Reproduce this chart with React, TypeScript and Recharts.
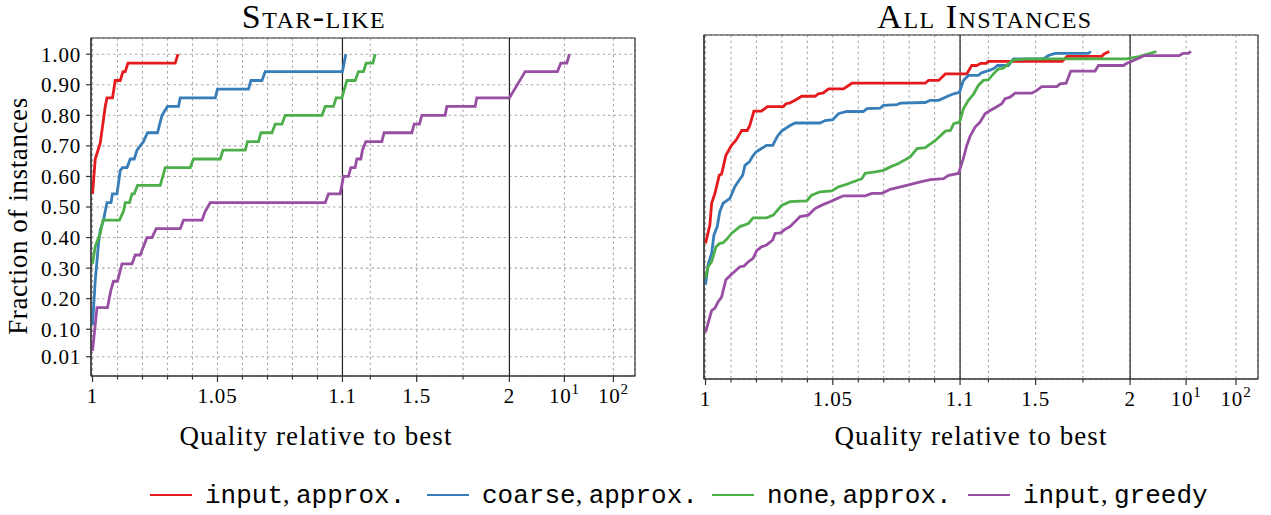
import React from "react";
import { CartesianGrid, Label, Line, LineChart, ReferenceArea, ReferenceLine, XAxis, YAxis } from "recharts";

type Pt = [number, number];

// performance profiles: [quality ratio, fraction of instances]
const starInputApprox: Pt[] = [
  [1.0, 0.543], [1.0011, 0.657], [1.0031, 0.71], [1.0051, 0.829], [1.0058, 0.857], [1.008, 0.857],
  [1.0091, 0.914], [1.0111, 0.914], [1.0122, 0.943], [1.0131, 0.943], [1.0142, 0.971], [1.0331, 0.971],
  [1.0342, 1.0],
];
const starCoarseApprox: Pt[] = [
  [1.0, 0.114], [1.0011, 0.26], [1.0024, 0.38], [1.0031, 0.424], [1.0044, 0.457], [1.0051, 0.486],
  [1.0058, 0.514], [1.0074, 0.514], [1.008, 0.543], [1.0098, 0.543], [1.0111, 0.619], [1.012, 0.629],
  [1.0138, 0.629], [1.0151, 0.657], [1.0167, 0.657], [1.0178, 0.686], [1.0191, 0.7], [1.0204, 0.714],
  [1.022, 0.743], [1.026, 0.743], [1.0278, 0.8], [1.03, 0.829], [1.0344, 0.829], [1.0351, 0.857],
  [1.0491, 0.857], [1.05, 0.886], [1.0624, 0.886], [1.0634, 0.914], [1.0678, 0.914], [1.0691, 0.943],
  [1.1, 0.943], [1.118, 1.0],
];
const starNoneApprox: Pt[] = [
  [1.0, 0.314], [1.0011, 0.371], [1.0031, 0.414], [1.0042, 0.457], [1.0108, 0.457], [1.0124, 0.486],
  [1.0131, 0.514], [1.0148, 0.514], [1.0158, 0.543], [1.0167, 0.543], [1.018, 0.571], [1.0271, 0.571],
  [1.0291, 0.629], [1.0391, 0.629], [1.0404, 0.657], [1.0511, 0.657], [1.0522, 0.686], [1.0611, 0.686],
  [1.062, 0.714], [1.0664, 0.714], [1.0674, 0.743], [1.0718, 0.743], [1.0731, 0.771], [1.0758, 0.771],
  [1.0771, 0.8], [1.0918, 0.8], [1.0931, 0.829], [1.0964, 0.829], [1.0975, 0.857], [1.0998, 0.857],
  [1.1237, 0.914], [1.1685, 0.914], [1.1862, 0.943], [1.2132, 0.943], [1.2277, 0.971], [1.2639, 0.971],
  [1.2762, 1.0],
];
const starInputGreedy: Pt[] = [
  [1.0, 0.029], [1.0018, 0.171], [1.006, 0.171], [1.0074, 0.229], [1.0084, 0.257], [1.01, 0.257],
  [1.0118, 0.314], [1.0158, 0.314], [1.0171, 0.343], [1.0191, 0.343], [1.0204, 0.371], [1.0218, 0.4],
  [1.0238, 0.4], [1.0255, 0.429], [1.0351, 0.429], [1.0364, 0.457], [1.0438, 0.457], [1.0451, 0.486],
  [1.0471, 0.514], [1.0931, 0.514], [1.0944, 0.543], [1.0991, 0.543], [1.1054, 0.6], [1.1323, 0.6],
  [1.1453, 0.629], [1.1684, 0.629], [1.1776, 0.657], [1.1992, 0.657], [1.2078, 0.686], [1.2261, 0.714],
  [1.3123, 0.714], [1.3247, 0.743], [1.474, 0.743], [1.4864, 0.771], [1.515, 0.771], [1.528, 0.8],
  [1.6535, 0.8], [1.6626, 0.829], [1.8151, 0.829], [1.8243, 0.857], [2.0, 0.857], [3.17, 0.943],
  [8.15, 0.943], [9.0, 0.971], [11.2, 0.971], [12.65, 1.0],
];

const allInputApprox: Pt[] = [
  [1.0, 0.383], [1.0017, 0.442], [1.0024, 0.512], [1.0037, 0.544], [1.0054, 0.602], [1.0063, 0.606],
  [1.008, 0.666], [1.0102, 0.698], [1.0119, 0.714], [1.0135, 0.736], [1.0142, 0.746], [1.0164, 0.746],
  [1.0174, 0.762], [1.019, 0.808], [1.022, 0.808], [1.0243, 0.823], [1.0306, 0.823], [1.0316, 0.832],
  [1.0332, 0.835], [1.0352, 0.843], [1.0378, 0.856], [1.043, 0.856], [1.0443, 0.864], [1.0463, 0.867],
  [1.0483, 0.88], [1.0542, 0.88], [1.0575, 0.898], [1.0863, 0.898], [1.0876, 0.907], [1.0916, 0.907],
  [1.0942, 0.928], [1.1355, 0.928], [1.1619, 0.955], [1.1884, 0.955], [1.2096, 0.962], [1.2376, 0.962],
  [1.2498, 0.968], [1.64, 0.968], [1.6665, 0.984], [1.85, 0.984], [1.862, 0.992], [1.89, 1.0],
];
const allCoarseApprox: Pt[] = [
  [1.0, 0.25], [1.001, 0.314], [1.0024, 0.351], [1.0033, 0.41], [1.0046, 0.437], [1.0056, 0.485],
  [1.0069, 0.512], [1.0096, 0.528], [1.0115, 0.565], [1.0132, 0.586], [1.0146, 0.602], [1.0155, 0.634],
  [1.0172, 0.645], [1.0185, 0.663], [1.0198, 0.677], [1.022, 0.688], [1.024, 0.698], [1.0264, 0.698],
  [1.0282, 0.727], [1.0299, 0.744], [1.0332, 0.762], [1.0352, 0.77], [1.045, 0.77], [1.047, 0.778],
  [1.05, 0.781], [1.0522, 0.8], [1.0555, 0.807], [1.062, 0.807], [1.0634, 0.816], [1.0686, 0.818],
  [1.0699, 0.827], [1.0752, 0.829], [1.0765, 0.834], [1.0863, 0.836], [1.0883, 0.843], [1.0916, 0.843],
  [1.0949, 0.855], [1.0975, 0.864], [1.0998, 0.869], [1.1175, 0.907], [1.1439, 0.923], [1.1969, 0.923],
  [1.2096, 0.93], [1.2414, 0.937], [1.2588, 0.94], [1.28, 0.946], [1.2975, 0.955], [1.3557, 0.955],
  [1.3822, 0.976], [1.541, 0.976], [1.5675, 0.987], [1.603, 0.994], [1.7792, 0.994], [1.792, 1.0],
];
const allNoneApprox: Pt[] = [
  [1.0, 0.271], [1.001, 0.308], [1.0024, 0.324], [1.0041, 0.372], [1.0056, 0.383], [1.0069, 0.385],
  [1.0083, 0.396], [1.0102, 0.415], [1.0135, 0.437], [1.0168, 0.447], [1.0187, 0.465], [1.024, 0.465],
  [1.0266, 0.474], [1.0299, 0.505], [1.0332, 0.517], [1.0398, 0.52], [1.0417, 0.538], [1.045, 0.549],
  [1.0496, 0.552], [1.0522, 0.565], [1.0555, 0.573], [1.0581, 0.581], [1.0614, 0.591], [1.0627, 0.608],
  [1.0667, 0.613], [1.0699, 0.618], [1.0726, 0.629], [1.0758, 0.64], [1.0804, 0.661], [1.0831, 0.688],
  [1.0863, 0.691], [1.0903, 0.714], [1.0942, 0.744], [1.0962, 0.746], [1.0975, 0.768], [1.0994, 0.772],
  [1.1, 0.778], [1.1175, 0.816], [1.1439, 0.843], [1.1704, 0.862], [1.1969, 0.891], [1.2234, 0.907],
  [1.2498, 0.909], [1.2763, 0.928], [1.3028, 0.944], [1.3292, 0.946], [1.3557, 0.96], [1.3822, 0.973],
  [1.4531, 0.976], [1.9825, 0.976], [2.65, 0.984], [4.25, 1.0],
];
const allInputGreedy: Pt[] = [
  [1.0, 0.097], [1.0024, 0.167], [1.0037, 0.175], [1.005, 0.196], [1.0063, 0.21], [1.008, 0.266],
  [1.0096, 0.279], [1.0135, 0.308], [1.0151, 0.31], [1.0168, 0.324], [1.0187, 0.335], [1.0201, 0.36],
  [1.022, 0.372], [1.024, 0.378], [1.0264, 0.394], [1.0273, 0.415], [1.0295, 0.417], [1.0312, 0.428],
  [1.0332, 0.437], [1.0352, 0.453], [1.0371, 0.469], [1.0404, 0.474], [1.043, 0.495], [1.0457, 0.506],
  [1.0489, 0.517], [1.0516, 0.527], [1.0542, 0.536], [1.0627, 0.536], [1.0654, 0.544], [1.0693, 0.544],
  [1.0726, 0.557], [1.0798, 0.571], [1.0844, 0.581], [1.0883, 0.588], [1.0935, 0.591], [1.0955, 0.602],
  [1.0994, 0.608], [1.1175, 0.656], [1.1355, 0.698], [1.1529, 0.727], [1.1794, 0.757], [1.2059, 0.773],
  [1.2324, 0.8], [1.2588, 0.81], [1.2853, 0.819], [1.3208, 0.832], [1.3382, 0.848], [1.3647, 0.853],
  [1.3912, 0.866], [1.4796, 0.866], [1.506, 0.875], [1.5325, 0.887], [1.612, 0.887], [1.6294, 0.896],
  [1.6612, 0.898], [1.6861, 0.937], [1.8147, 0.937], [1.8322, 0.955], [1.9645, 0.955], [1.9825, 0.962],
  [2.0, 0.966], [3.05, 0.987], [8.21, 0.987], [9.19, 0.994], [11.1, 0.994], [12.5, 1.0],
];

const seriesNames = ["input", "coarse", "none", "input"];
const seriesModes = ["approx.", "approx.", "approx.", "greedy"];
const seriesColors = ["#e41a1c", "#377eb8", "#4daf4a", "#984ea3"];

const majorTicks = [1, 1.05, 1.1, 1.5, 2, 10, 100];
const majorLabels = ["1", "1.05", "1.1", "1.5", "2", "10^1", "10^2"];
const minorTicks = [1.01, 1.02, 1.03, 1.04, 1.06, 1.07, 1.08, 1.09, 1.25, 1.75];
const yTicks = [0.01, 0.1, 0.2, 0.3, 0.4, 0.5, 0.6, 0.7, 0.8, 0.9, 1.0];
const dividers = [1.1, 2];

const SERIF = '"Liberation Serif", "DejaVu Serif", serif';
const MONO = '"Liberation Mono", "DejaVu Sans Mono", monospace';
const AXIS = "#333";
const CHART_H = 470;

// piecewise x scale: linear on [1, 1.1], linear on [1.1, 2], log beyond 2
function toPos(r: number): number {
  if (r <= 1.1) return (r - 1) * 2500;
  if (r <= 2) return 250 + ((r - 1.1) / 0.9) * 167;
  if (r <= 10) return 417 + (Math.log10(r / 2) / Math.log10(5)) * 55;
  return 472 + Math.log10(r / 10) * 49;
}

const X_DOMAIN: [number, number] = [-1.5, 542.6];
const Y_DOMAIN: [number, number] = [-0.053, 1.053];
const majorPos = majorTicks.map(toPos);
const xTickPos = [...majorTicks, ...minorTicks].map(toPos).sort((a, b) => a - b);

const toRows = (pts: Pt[]) => pts.map(([r, f]) => ({ u: toPos(r), f }));

function XTick(props: any) {
  const { x, y, payload } = props;
  const idx = majorPos.findIndex((p) => Math.abs(p - payload.value) < 1e-6);
  const label = idx >= 0 ? majorLabels[idx] : null;
  const [base, sup] = label ? label.split("^") : [null, null];
  return (
    <g>
      <line x1={x} x2={x} y1={y} y2={y + (label ? 6 : 3.5)} stroke={AXIS} strokeWidth={1.2} />
      {label && (
        <text x={x} y={y + 27} textAnchor="middle" fontFamily={SERIF} fontSize={21} fill="#000" letterSpacing={0.8}>
          <tspan>{base}</tspan>
          {sup && (
            <tspan dy={-9} fontSize={15}>
              {sup}
            </tspan>
          )}
        </text>
      )}
    </g>
  );
}

interface PanelProps {
  title: string;
  series: Pt[][];
  left: number;
  width: number;
  plotLeft: number;
  plotRight: number;
  plotTop: number;
  plotBottom: number;
  yAxisWidth: number;
  showYLabels: boolean;
  titleCenter: number;
  xLabelCenter: number;
}

function Panel(p: PanelProps) {
  const margin = {
    top: p.plotTop,
    left: p.plotLeft - p.left - p.yAxisWidth,
    right: p.left + p.width - p.plotRight,
    bottom: CHART_H - p.plotBottom - 70,
  };
  return (
    <div style={{ position: "absolute", left: p.left, top: 0, width: p.width, height: CHART_H }}>
      <div
        style={{
          position: "absolute",
          left: p.titleCenter - p.left - 200,
          width: 400,
          top: 0,
          textAlign: "center",
          fontFamily: SERIF,
          fontSize: 34,
          lineHeight: "34px",
          fontVariant: "small-caps",
          letterSpacing: 1.5,
        }}
      >
        {p.title}
      </div>
      <LineChart width={p.width} height={CHART_H} margin={margin}>
        <CartesianGrid stroke="#ababab" strokeWidth={1.1} strokeDasharray="2.5 3" />
        <XAxis
          dataKey="u"
          type="number"
          domain={X_DOMAIN}
          ticks={xTickPos}
          interval={0}
          allowDataOverflow
          height={70}
          tickLine={false}
          tickSize={0}
          tickMargin={0}
          axisLine={{ stroke: AXIS, strokeWidth: 1.2 }}
          tick={(t: any) => <XTick {...t} />}
        >
          <Label
            content={() => (
              <text x={p.xLabelCenter - p.left} y={445} textAnchor="middle" fontFamily={SERIF} fontSize={27} letterSpacing={1.1}>
                Quality relative to best
              </text>
            )}
          />
        </XAxis>
        <YAxis
          type="number"
          domain={Y_DOMAIN}
          ticks={yTicks}
          interval={0}
          width={p.yAxisWidth}
          tickSize={5}
          tickMargin={5}
          tickLine={{ stroke: AXIS, strokeWidth: 1.2 }}
          axisLine={{ stroke: AXIS, strokeWidth: 1.2 }}
          tick={p.showYLabels ? { fontFamily: SERIF, fontSize: 21, fill: "#000", letterSpacing: 0.8 } : false}
          tickFormatter={(v: number) => v.toFixed(2)}
        >
          {p.showYLabels && (
            <Label
              content={() => (
                <text
                  transform="translate(27,216) rotate(-90)"
                  textAnchor="middle"
                  fontFamily={SERIF}
                  fontSize={27}
                  letterSpacing={0.6}
                >
                  Fraction of instances
                </text>
              )}
            />
          )}
        </YAxis>
        {dividers.map((d) => (
          <ReferenceLine key={d} x={toPos(d)} stroke="#222" strokeWidth={1.2} />
        ))}
        <ReferenceArea
          x1={X_DOMAIN[0]}
          x2={X_DOMAIN[1]}
          y1={Y_DOMAIN[0]}
          y2={Y_DOMAIN[1]}
          fill="none"
          stroke={AXIS}
          strokeWidth={1.2}
          ifOverflow="visible"
        />
        {p.series.map((pts, i) => (
          <Line
            key={i}
            data={toRows(pts)}
            dataKey="f"
            type="linear"
            stroke={seriesColors[i]}
            strokeWidth={2.8}
            dot={false}
            activeDot={false}
            isAnimationActive={false}
          />
        ))}
      </LineChart>
    </div>
  );
}

const legendStarts = [150, 427, 712, 968];

function LegendRow() {
  return (
    <div style={{ position: "absolute", left: 0, top: 480, width: 1271, height: 30 }}>
      {seriesNames.map((name, i) => (
        <div key={i} style={{ position: "absolute", left: legendStarts[i], top: 0, height: 30, display: "flex", alignItems: "center" }}>
          <div style={{ width: 42, height: 0, borderTop: `2.8px solid ${seriesColors[i]}`, marginRight: 13 }} />
          <span style={{ fontFamily: MONO, fontSize: 26, color: "#000", whiteSpace: "pre" }}>
            {name}
            <span style={{ fontFamily: SERIF }}>, </span>
            {seriesModes[i]}
          </span>
        </div>
      ))}
    </div>
  );
}

export default function App() {
  return (
    <div style={{ position: "absolute", left: 0, top: 0, width: 1271, height: 515, background: "#fff" }}>
      <Panel
        title="Star-like"
        series={[starInputApprox, starCoarseApprox, starNoneApprox, starInputGreedy]}
        left={0}
        width={650}
        plotLeft={91}
        plotRight={635}
        plotTop={38}
        plotBottom={376}
        yAxisWidth={80}
        showYLabels
        titleCenter={314}
        xLabelCenter={316}
      />
      <Panel
        title="All Instances"
        series={[allInputApprox, allCoarseApprox, allNoneApprox, allInputGreedy]}
        left={650}
        width={621}
        plotLeft={704}
        plotRight={1258}
        plotTop={35}
        plotBottom={379}
        yAxisWidth={10}
        showYLabels={false}
        titleCenter={985}
        xLabelCenter={971}
      />
      <LegendRow />
    </div>
  );
}
